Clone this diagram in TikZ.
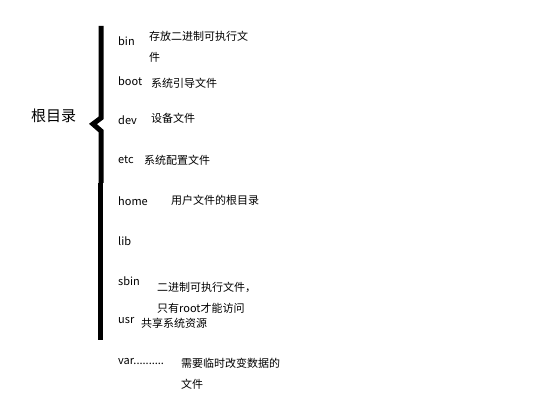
\documentclass[tikz,border=0pt]{standalone}
\usepackage{fontspec}
\setmainfont{Noto Sans CJK SC}
\usetikzlibrary{positioning}

\begin{document}
\begin{tikzpicture}[x=1pt, y=-1pt, anchor=west, inner sep=0pt,
    dirname/.style={font=\fontsize{11}{13}\selectfont},
    dirnote/.style={font=\fontsize{11}{13}\selectfont, align=left},
    rootname/.style={font=\fontsize{15}{18}\selectfont}]
    \useasboundingbox (0,0) rectangle (552,409);
    \node[rootname] (root) at (31,116) {根目录};
    % brace
    \draw[line width=5pt, line join=miter] (101,26) -- (101,118) -- (93,124) -- (101,131) -- (101,183);
    \draw[line width=5pt] (100,183) -- (100,287);
    \draw[line width=5pt] (100,286) -- (100,340);
    \node[dirname] (bin) at (118,41) {bin};
    \node[dirnote, anchor=north west] (binnote) at (149,31) {存放二进制可执行文\\[8pt]件};
    \node[dirname] (boot) at (118,81) {boot};
    \node[dirnote] (bootnote) at (151,83) {系统引导文件};
    \node[dirname] (dev) at (118,120) {dev};
    \node[dirnote] (devnote) at (151,118) {设备文件};
    \node[dirname] (etc) at (118,160) {etc};
    \node[dirnote] (etcnote) at (144,160) {系统配置文件};
    \node[dirname] (home) at (118,201) {home};
    \node[dirnote] (homenote) at (171,200) {用户文件的根目录};
    \node[dirname] (lib) at (118,241) {lib};
    \node[dirname] (sbin) at (118,281) {sbin};
    \node[dirnote, anchor=north west] (sbinnote) at (157,282) {二进制可执行文件，\\[8pt]只有root才能访问};
    \node[dirname] (usr) at (118,321) {usr};
    \node[dirnote] (usrnote) at (141,323) {共享系统资源};
    \node[dirname] (var) at (118,362) {var..........};
    \node[dirnote, anchor=north west] (varnote) at (181,358) {需要临时改变数据的\\[8pt]文件};
\end{tikzpicture}
\end{document}
